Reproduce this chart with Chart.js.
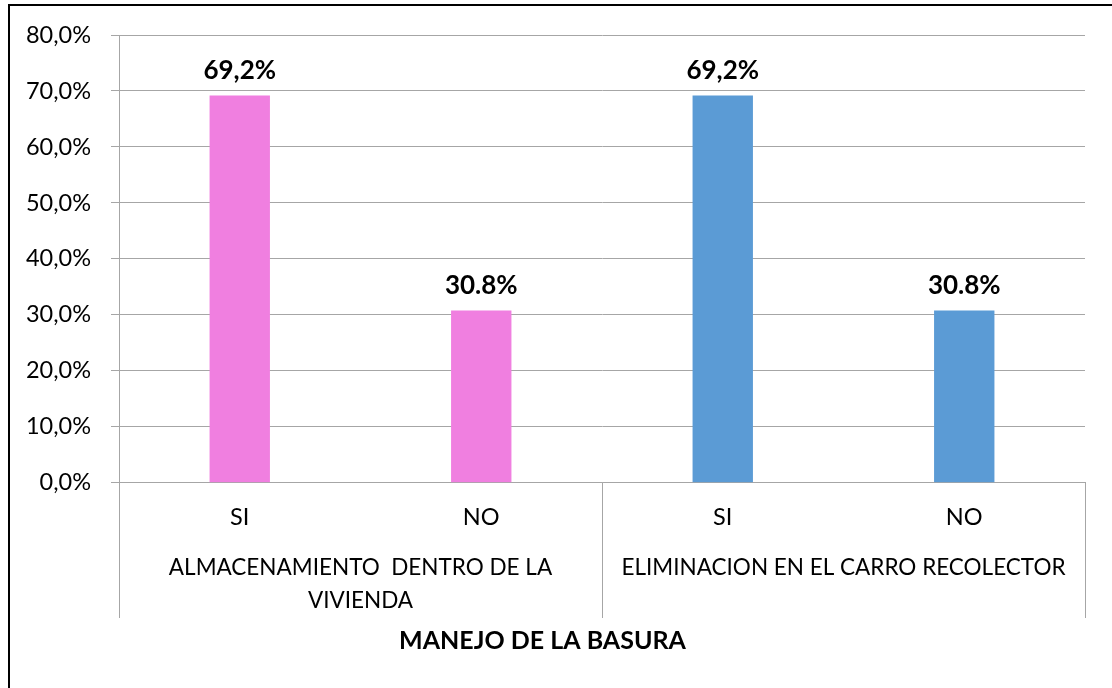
<!DOCTYPE html>
<html>
<head>
<meta charset="utf-8">
<script src="https://cdn.jsdelivr.net/npm/chart.js@4"></script>
<style>
  html, body { margin: 0; padding: 0; background: #fff; overflow: hidden; }
  #wrap { position: relative; width: 1112px; height: 688px; }
  #frame { position: absolute; left: 8px; top: 4px; width: 1120px; height: 700px; border: 2px solid #000; box-sizing: border-box; pointer-events: none; }
  canvas { position: absolute; left: 0; top: 0; }
</style>
</head>
<body>
<div id="wrap">
  <canvas id="chart" width="1112" height="688"></canvas>
  <div id="frame"></div>
</div>
<script>
// Données du graphique
const categories = ['SI', 'NO', 'SI', 'NO'];
const groups = ['ALMACENAMIENTO  DENTRO DE LA\nVIVIENDA', 'ELIMINACION EN EL CARRO RECOLECTOR'];
const groupSizes = [2, 2];
const values = [69.2, 30.8, 69.2, 30.8];
const valueLabels = ['69,2%', '30.8%', '69,2%', '30.8%'];
const barColors = ['#f07fe0', '#f07fe0', '#5b9bd5', '#5b9bd5'];
const axisTitle = 'MANEJO DE LA BASURA';

const FONT = 'Lato, "Open Sans", sans-serif';
const GRID = '#a6a6a6';

// Étiquettes de valeur au-dessus des barres
const valueLabelPlugin = {
    id: 'valueLabels',
    afterDatasetsDraw(chart) {
        const ctx = chart.ctx;
        const meta = chart.getDatasetMeta(0);
        ctx.save();
        ctx.font = 'bold 26px ' + FONT;
        ctx.fillStyle = '#000';
        ctx.textAlign = 'center';
        ctx.textBaseline = 'alphabetic';
        meta.data.forEach((bar, i) => {
            ctx.fillText(valueLabels[i], bar.x, bar.y - 16);
        });
        ctx.restore();
    }
};

// Séparateurs verticaux entre les groupes de catégories
const groupSeparatorPlugin = {
    id: 'groupSeparators',
    afterDraw(chart) {
        const x = chart.scales.x;
        const x2 = chart.scales.x2;
        const ctx = chart.ctx;
        const bounds = [0];
        groupSizes.forEach(n => bounds.push(bounds[bounds.length - 1] + n));
        ctx.save();
        ctx.strokeStyle = GRID;
        ctx.lineWidth = 1;
        bounds.forEach(b => {
            const px = Math.round(x.getPixelForValue(b - 0.5)) + 0.5;
            ctx.beginPath();
            ctx.moveTo(px, x.top);
            ctx.lineTo(px, x2.bottom - 3);
            ctx.stroke();
        });
        ctx.restore();
    }
};

new Chart(document.getElementById('chart'), {
    type: 'bar',
    data: {
        labels: categories,
        datasets: [{
            data: values,
            backgroundColor: barColors,
            borderWidth: 0,
            barPercentage: 0.25,
            categoryPercentage: 1
        }]
    },
    options: {
        responsive: false,
        animation: false,
        layout: { padding: { top: 35, right: 27, left: 0, bottom: 0 } },
        plugins: {
            legend: { display: false },
            tooltip: { enabled: false },
            title: {
                display: true,
                position: 'bottom',
                text: axisTitle,
                color: '#000',
                font: { family: FONT, size: 25, weight: 'bold', lineHeight: 1.2 },
                padding: { top: 5, bottom: 32 }
            }
        },
        scales: {
            y: {
                min: 0,
                max: 80,
                ticks: {
                    stepSize: 10,
                    padding: 20,
                    color: '#000',
                    font: { family: FONT, size: 23.5 },
                    callback: v => v.toFixed(1).replace('.', ',') + '%'
                },
                grid: { color: GRID, tickLength: 8, lineWidth: 1 },
                border: { color: GRID },
                afterFit: s => { s.width = 119; }
            },
            x: {
                grid: { display: false, drawTicks: false },
                border: { color: GRID },
                ticks: {
                    padding: 21,
                    color: '#000',
                    maxRotation: 0,
                    font: { family: FONT, size: 23.5 }
                },
                afterFit: s => { s.height = 55; }
            },
            x2: {
                type: 'category',
                position: 'bottom',
                labels: groups.map(g => g.split('\n')),
                offset: true,
                grid: { display: false, drawTicks: false },
                border: { display: false },
                ticks: {
                    padding: 13.5,
                    color: '#000',
                    maxRotation: 0,
                    autoSkip: false,
                    font: { family: FONT, size: 22.5, lineHeight: 1.47 }
                },
                afterFit: s => { s.height = 83.2; }
            }
        }
    },
    plugins: [valueLabelPlugin, groupSeparatorPlugin]
});
</script>
</body>
</html>
